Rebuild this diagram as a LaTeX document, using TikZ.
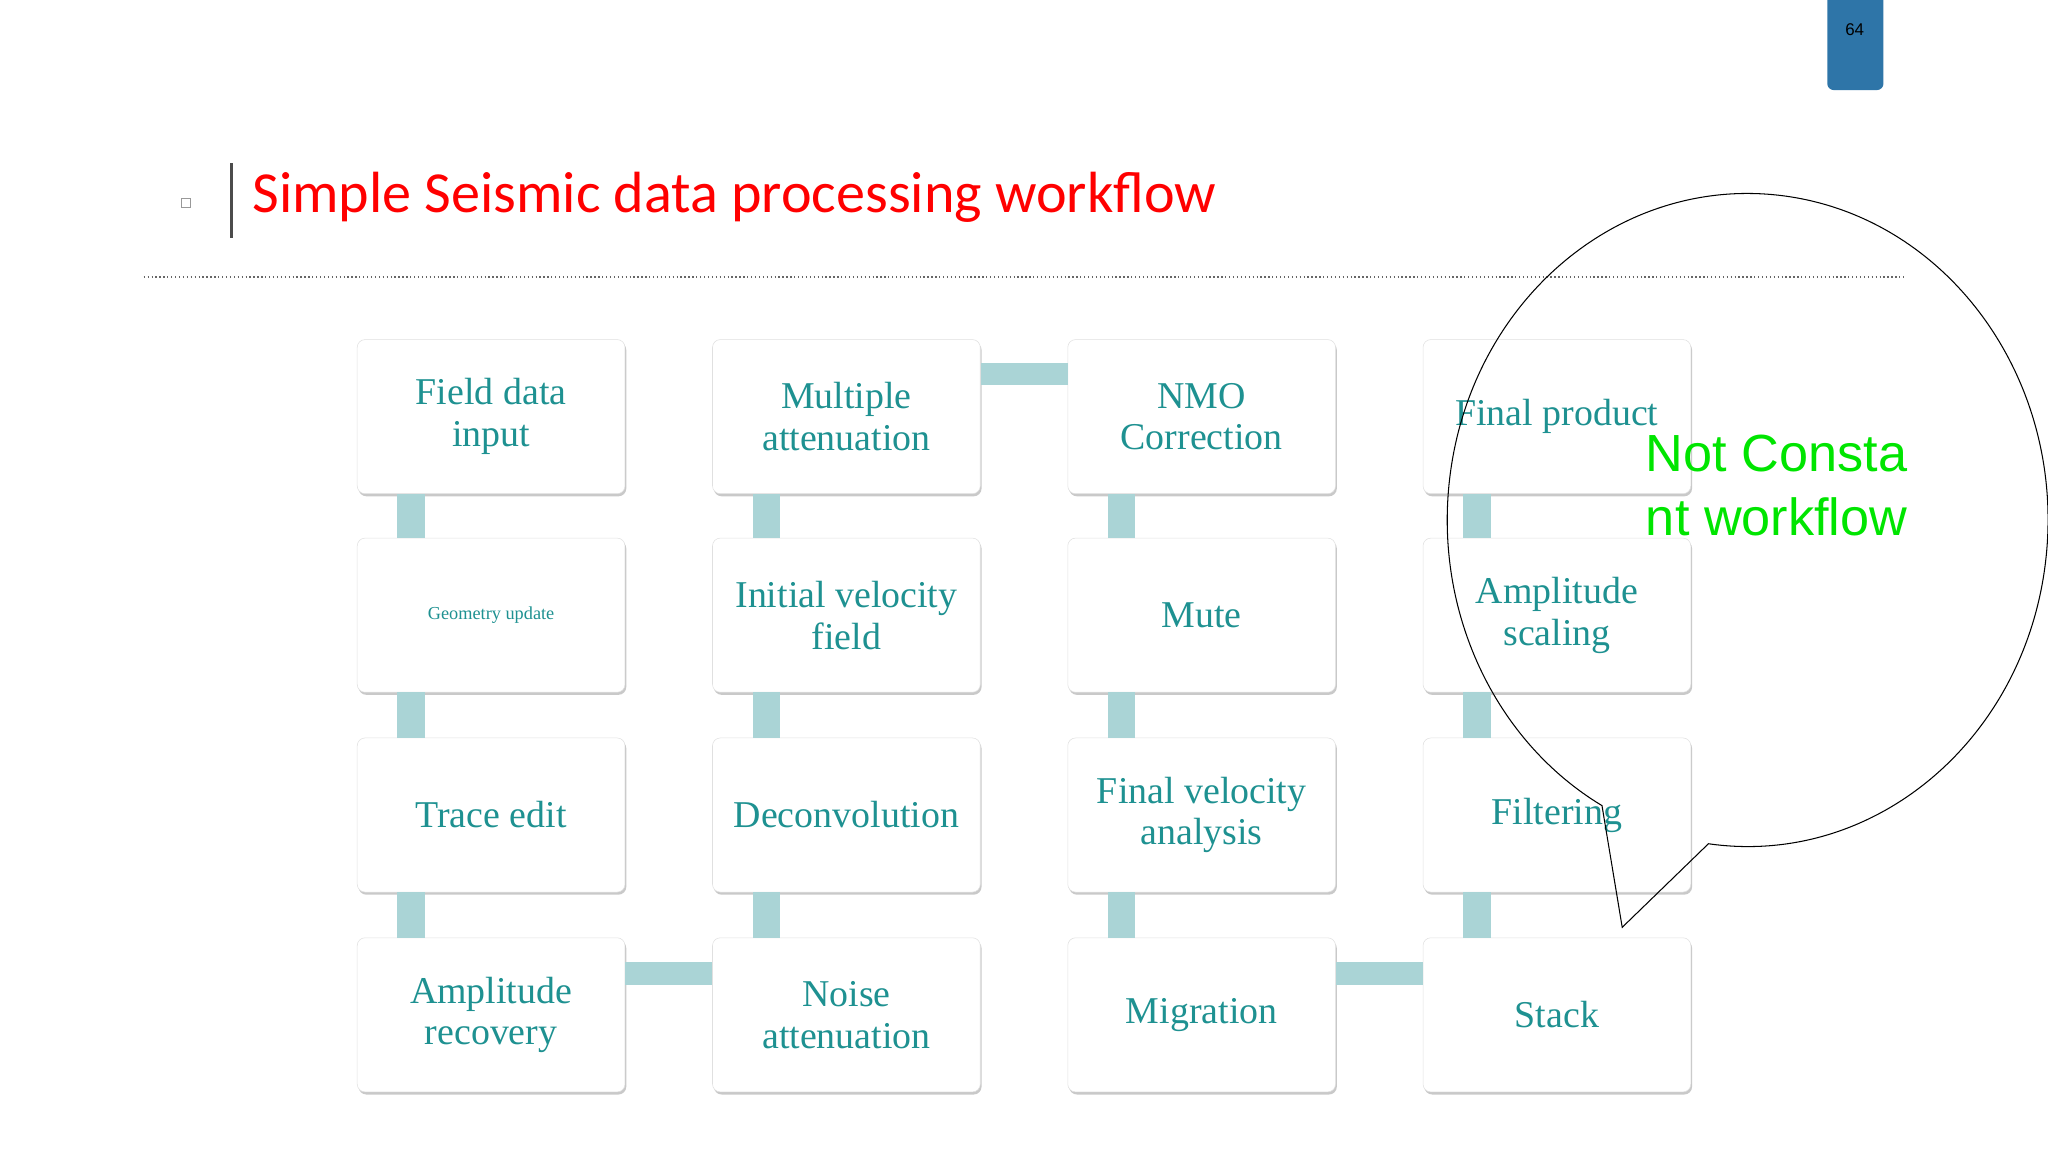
\documentclass[tikz,border=0pt]{standalone}
\usepackage{fontspec}
\setmainfont{Liberation Serif}
\newfontfamily\titlefont{Carlito}
\newfontfamily\arialfont{Liberation Sans}
\usetikzlibrary{shadows}
\definecolor{teal1}{RGB}{30,145,145}
\definecolor{conn}{RGB}{170,212,214}
\definecolor{tabblue}{RGB}{46,117,168}
\begin{document}
\begin{tikzpicture}[x=1pt,y=1pt,
 box/.style={draw=black!12,fill=white,rounded corners=6pt,minimum width=205pt,minimum height=118pt,
   align=center,text=teal1,font=\fontsize{29}{32}\selectfont,
   drop shadow={shadow xshift=1pt,shadow yshift=-2pt,opacity=0.35,fill=black!60}},
 cn/.style={fill=conn,draw=none}]
\useasboundingbox (0,0) rectangle (1568,882);
\fill[white] (0,0) rectangle (1568,882);
% page tab
\fill[tabblue,rounded corners=5pt] (1399,890) rectangle (1442,813);
\node[font=\arialfont\fontsize{13}{15}\selectfont] (pg) at (1420,859) {64};
% title
\node[draw=black!40,line width=0.5pt,minimum size=7pt,inner sep=0pt] (sq) at (142,727) {};
\draw[line width=2.5pt,black!70] (177,757) -- (177,700);
\node[anchor=base west,text=red,font=\titlefont\fontsize{44.5}{50}\selectfont,inner sep=0pt] (title) at (193,719) {Simple Seismic data processing workflow};
\draw[dotted,black!60,line width=1pt] (110,670) -- (1458,670);
% boxes
\node[box] (a1) at (376,563) {Field data\\input};
\node[box] (a2) at (376,411) {\fontsize{14}{16}\selectfont Geometry update};
\node[box] (a3) at (376,258) {Trace edit};
\node[box] (a4) at (376,105) {Amplitude\\recovery};
\node[box] (b1) at (648,563) {Multiple\\attenuation};
\node[box] (b2) at (648,411) {Initial velocity\\field};
\node[box] (b3) at (648,258) {Deconvolution};
\node[box] (b4) at (648,105) {Noise\\attenuation};
\node[box] (c1) at (920,563) {NMO\\Correction};
\node[box] (c2) at (920,411) {Mute};
\node[box] (c3) at (920,258) {Final velocity\\analysis};
\node[box] (c4) at (920,105) {Migration};
\node[box] (d1) at (1192,563) {Final product};
\node[box] (d2) at (1192,411) {Amplitude\\scaling};
\node[box] (d3) at (1192,258) {Filtering};
\node[box] (d4) at (1192,105) {Stack};
% connectors
\foreach \c in {a,b,c,d}{
 \foreach \i/\j in {1/2,2/3,3/4}{
  \fill[cn] ([xshift=31pt]\c\i.south west) rectangle ([xshift=52pt]\c\j.north west);
 }}
\fill[cn] ([yshift=-18pt]b1.north east) rectangle ([yshift=-35pt]c1.north west);
\fill[cn] ([yshift=-19pt]a4.north east) rectangle ([yshift=-36pt]b4.north west);
\fill[cn] ([yshift=-19pt]c4.north east) rectangle ([yshift=-36pt]d4.north west);
% callout
\coordinate (tip) at (1242,172);
\draw[black,line width=0.8pt] (tip) -- (1308,236) arc[start angle=262.5,end angle=601,x radius=230,y radius=250] -- cycle;
\node[anchor=west,align=left,text=green!90!black,font=\arialfont\fontsize{40}{49}\selectfont,inner sep=0pt] (nc) at (1260,510) {Not Consta\\nt workflow};
\end{tikzpicture}
\end{document}
